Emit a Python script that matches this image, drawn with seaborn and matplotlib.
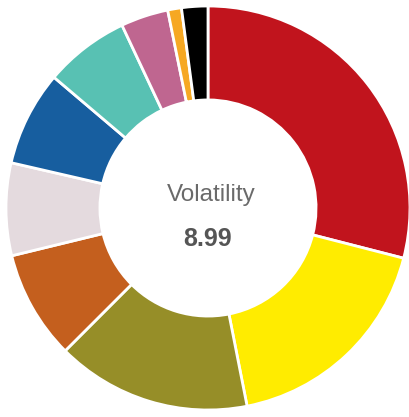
import seaborn as sns
import matplotlib.pyplot as plt

sns.set_theme(style="white")
plt.rcParams['font.family'] = ['Liberation Sans', 'DejaVu Sans']

# slice shares (%), clockwise from the top
shares = [29.0, 17.9, 15.6, 8.7, 7.4, 7.6, 6.8, 3.8, 1.1, 2.1]
colors = ["#C1141D", "#FFEC00", "#968E28", "#C45F1E", "#E4DADE",
          "#175E9F", "#58C1B3", "#BF6690", "#F6A823", "#000000"]
center_label = "Volatility"
center_value = "8.99"

fig = plt.figure(figsize=(4.10, 4.17), dpi=100)
ax = fig.add_axes([6 / 410, 7 / 417, 404 / 410, 404 / 417])

ax.pie(
    shares,
    colors=colors,
    startangle=90,
    counterclock=False,
    radius=1.0,
    wedgeprops=dict(width=0.465, edgecolor="white", linewidth=2),
)
ax.set_xlim(-1, 1)
ax.set_ylim(-1, 1)
ax.set_aspect("equal")
ax.axis("off")

ax.text(0.015, 0.036, center_label, ha="center", va="baseline",
        fontsize=17.5, color="#6a6a6a")
ax.text(0.0, -0.188, center_value, ha="center", va="baseline",
        fontsize=18, fontweight="bold", color="#555555")

fig.savefig("out.png", dpi=100)
